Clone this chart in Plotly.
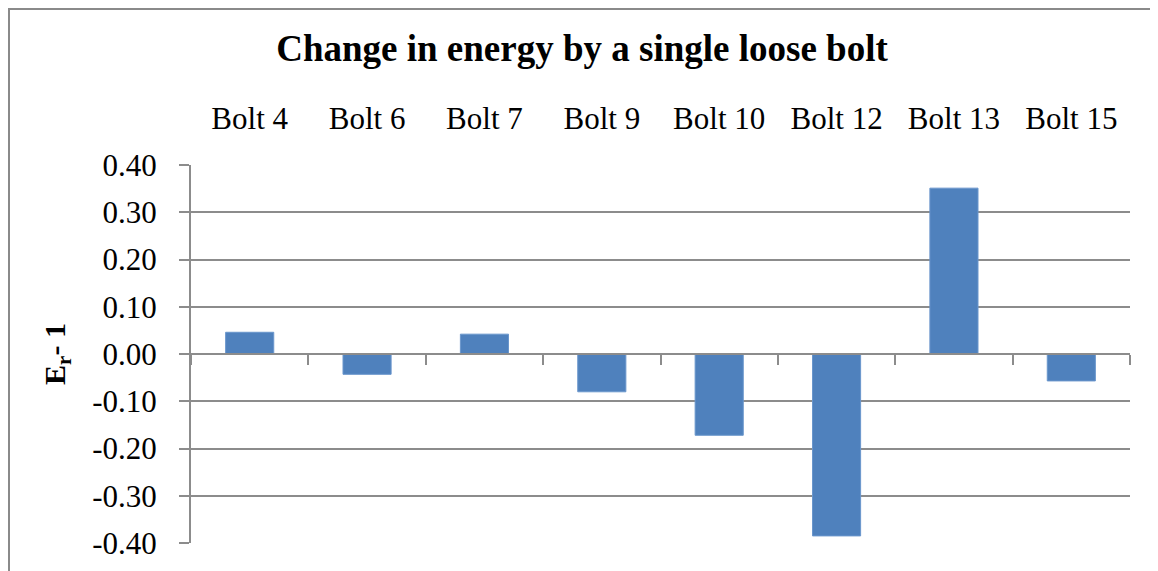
import plotly.graph_objects as go

categories = ["Bolt 4", "Bolt 6", "Bolt 7", "Bolt 9", "Bolt 10", "Bolt 12", "Bolt 13", "Bolt 15"]
values = [0.046, -0.043, 0.042, -0.080, -0.172, -0.385, 0.351, -0.057]
y_ticks = [-0.4, -0.3, -0.2, -0.1, 0.0, 0.1, 0.2, 0.3, 0.4]
y_ticktext = [f"{v:.2f}" for v in y_ticks]

FONT = "Liberation Serif, Times New Roman, serif"
GRID = "#8c8c8c"
OFF = 8  # page body margin offset

fig = go.Figure()
fig.add_trace(go.Bar(
    x=categories, y=values,
    marker=dict(color="#4F81BD", line=dict(color="#6a96cc", width=1)),
    xaxis="x", yaxis="y", showlegend=False, hoverinfo="skip",
))
# invisible trace to carry the top category labels
fig.add_trace(go.Scatter(
    x=categories, y=[0] * len(categories), mode="markers",
    marker=dict(opacity=0), xaxis="x2", yaxis="y", showlegend=False, hoverinfo="skip",
))

L, T = 191 - OFF, 165 - OFF
PW, PH = 939, 378
fig.update_layout(
    width=1158, height=571,
    margin=dict(l=L, r=1158 - L - PW, t=T, b=571 - T - PH, autoexpand=False),
    paper_bgcolor="white", plot_bgcolor="white",
    font=dict(family=FONT, color="black"),
    bargap=0.59,
    title=dict(text="<b>Change in energy by a single loose bolt</b>",
               x=(582 - OFF) / 1158, xref="container", xanchor="center",
               y=1 - (48 - OFF) / 571, yref="container", yanchor="middle",
               font=dict(family=FONT, size=37, color="black")),
    xaxis=dict(
        type="category", anchor="free", position=0.5, side="bottom",
        showticklabels=False, ticks="outside", tickson="boundaries",
        ticklen=10, tickwidth=2, tickcolor=GRID, automargin=False,
        showline=True, linecolor=GRID, linewidth=2, showgrid=False, zeroline=False,
    ),
    xaxis2=dict(
        type="category", overlaying="x", matches="x", side="top", anchor="y",
        showticklabels=True, ticks="", showline=False, showgrid=False, zeroline=False,
        automargin=False,
        tickfont=dict(family=FONT, size=31, color="black"), ticklabelstandoff=29,
    ),
    yaxis=dict(
        range=[-0.4, 0.4], tickvals=y_ticks, ticktext=y_ticktext,
        ticks="outside", ticklen=10, tickwidth=2, tickcolor=GRID, automargin=False,
        showline=True, linecolor=GRID, linewidth=2,
        showgrid=True, gridcolor=GRID, gridwidth=2,
        zeroline=True, zerolinecolor=GRID, zerolinewidth=2,
        tickfont=dict(family=FONT, size=31, color="black"), ticklabelstandoff=16,
        title=dict(text="<b>E<sub>r</sub>- 1</b>", standoff=18,
                   font=dict(family=FONT, size=30, color="black")),
    ),
    shapes=[dict(type="rect", xref="paper", yref="paper",
                 x0=(1 - L) / PW, x1=(1175 - L) / PW,
                 y0=(T + PH - 600) / PH, y1=1 + (T - 1) / PH,
                 line=dict(color="#8a8a8a", width=2), layer="below")],
)

fig.write_html("out.html")
